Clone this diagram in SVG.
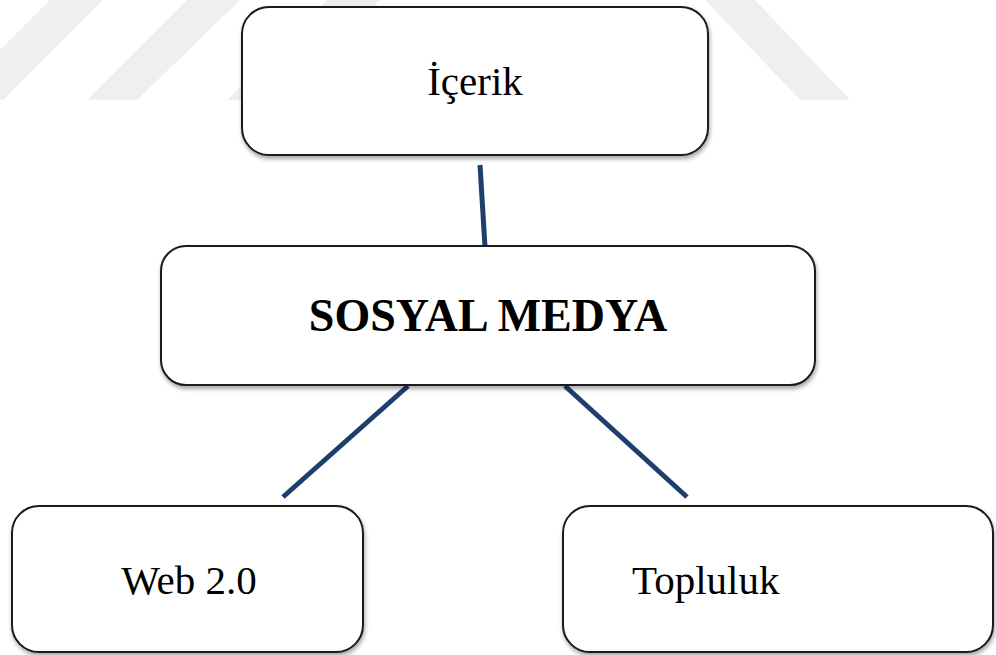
<svg xmlns="http://www.w3.org/2000/svg" width="996" height="655" viewBox="0 0 996 655">
  <defs>
    <filter id="shadow" x="-5%" y="-5%" width="110%" height="120%">
      <feDropShadow dx="1" dy="3" stdDeviation="2" flood-color="#000" flood-opacity="0.35"/>
    </filter>
  </defs>
  <style>
    .box { fill: #ffffff; stroke: #1a1a1a; stroke-width: 2; filter: url(#shadow); }
    .lbl { font-family: "Liberation Serif", "Times New Roman", serif; font-size: 41px; fill: #000; }
    .bold { font-weight: bold; font-size: 46px; }
    .conn { stroke: #1d3f6c; stroke-width: 5; fill: none; stroke-linecap: butt; }
    .wm { fill: #efefef; }
  </style>
  <rect width="996" height="655" fill="#ffffff"/>
  <g id="watermark">
    <polygon class="wm" points="50,0 103,0 3,100 0,100 0,50"/>
    <polygon class="wm" points="187,0 240,0 137,100 87,100"/>
    <polygon class="wm" points="327,0 380,0 280,100 227,100"/>
    <polygon class="wm" points="705,0 755,0 850,100 800,100"/>
  </g>
  <g id="connectors">
    <line class="conn" x1="480" y1="165" x2="485" y2="247"/>
    <line class="conn" x1="408" y1="386" x2="283" y2="497"/>
    <line class="conn" x1="565" y1="386" x2="687" y2="497"/>
  </g>
  <g id="node-icerik">
    <rect class="box" x="242" y="7" width="466" height="148" rx="27"/>
    <text class="lbl" x="475" y="95" text-anchor="middle">İçerik</text>
  </g>
  <g id="node-sosyal-medya">
    <rect class="box" x="161" y="246" width="654" height="139" rx="25"/>
    <text class="lbl bold" x="488" y="331" text-anchor="middle">SOSYAL MEDYA</text>
  </g>
  <g id="node-web20">
    <rect class="box" x="12" y="506" width="351" height="146" rx="27"/>
    <text class="lbl" x="189" y="594" text-anchor="middle">Web 2.0</text>
  </g>
  <g id="node-topluluk">
    <rect class="box" x="563" y="506" width="430" height="146" rx="27"/>
    <text class="lbl" x="632" y="594">Topluluk</text>
  </g>
</svg>
